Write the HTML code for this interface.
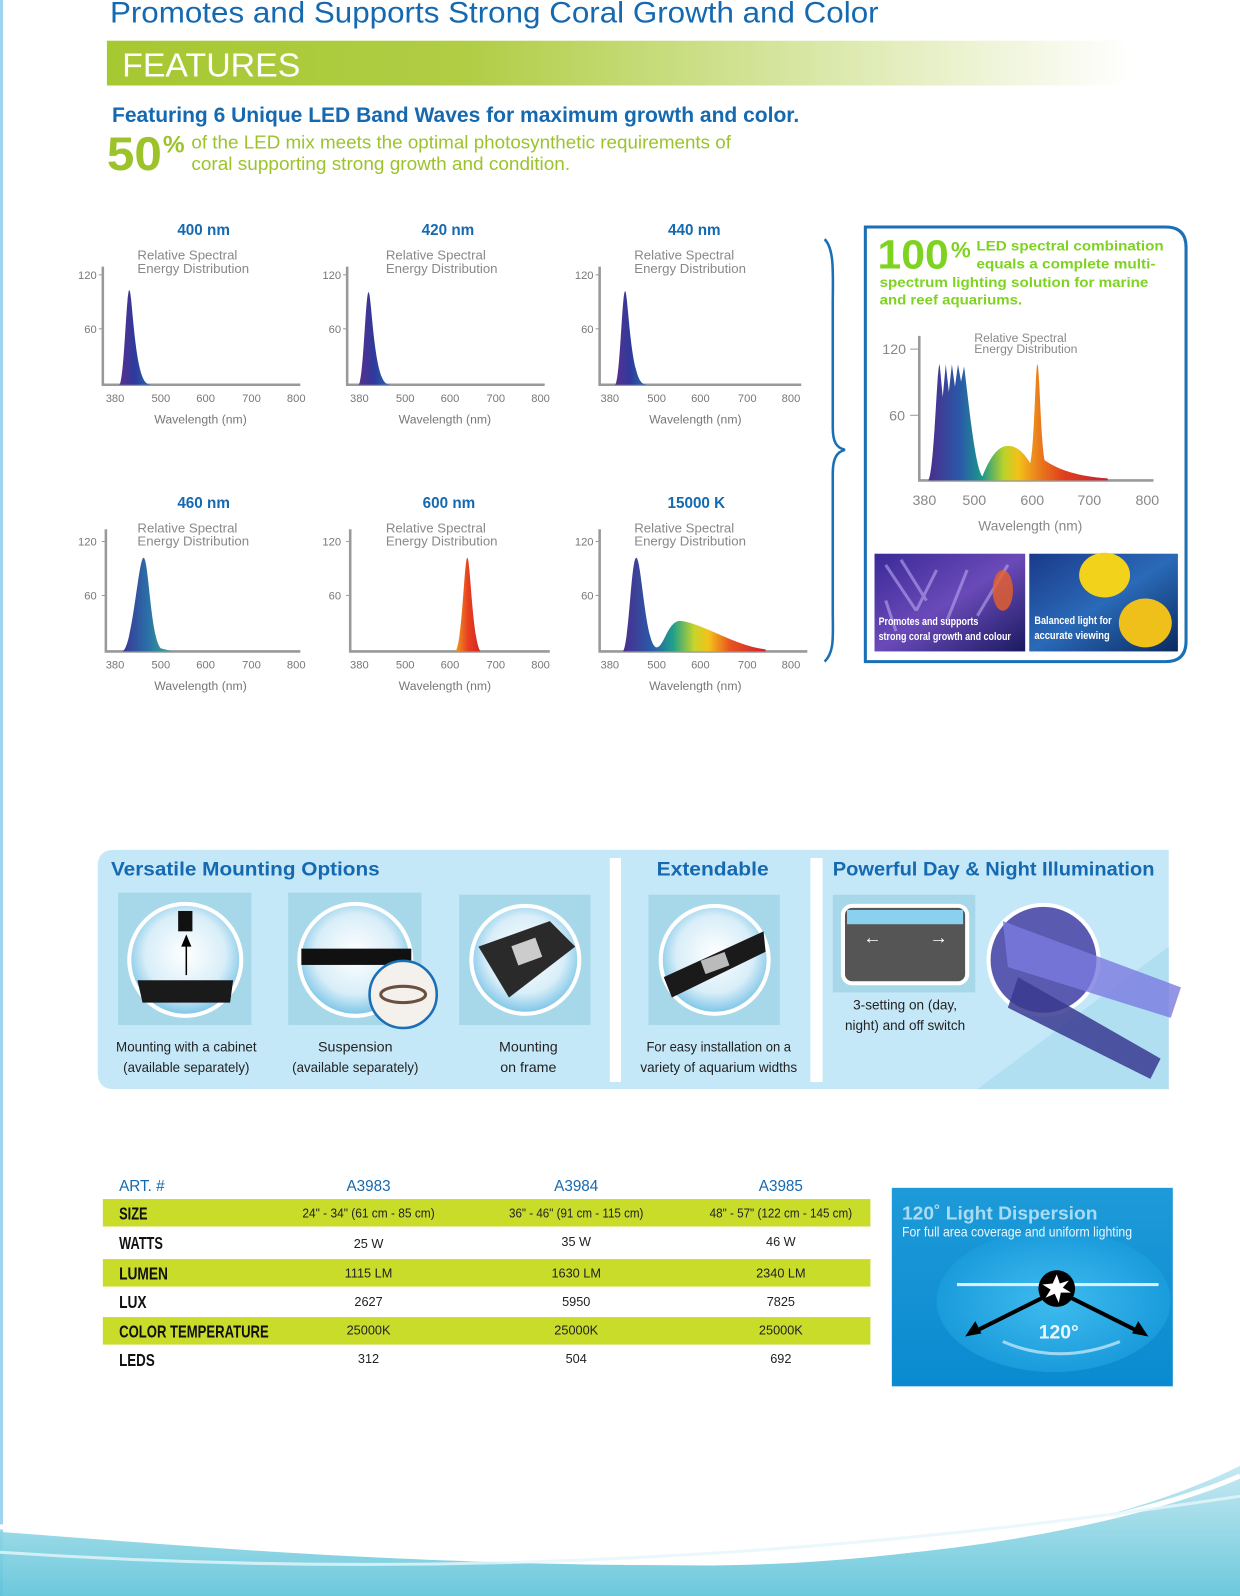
<!DOCTYPE html>
<html><head><meta charset="utf-8"><style>
html,body{margin:0;padding:0;background:#fff;width:1240px;height:1596px;overflow:hidden}
svg{display:block}
text{font-family:"Liberation Sans",sans-serif}
.ax{stroke:#999;stroke-width:2.5;fill:none}
.tk{font-size:11px;fill:#777}
.lab{font-size:12px;fill:#777}
.ttl{font-size:15px;fill:#1569b0;font-weight:bold}
.sub{font-size:13px;fill:#888}
.cap{font-size:14px;fill:#222}
.th{font-size:15px;fill:#1569b0}
.rl{font-size:17px;font-weight:bold;fill:#111}
.cell{font-size:12.5px;fill:#222}
</style></head><body>
<svg width="1240" height="1596" viewBox="0 0 1218 1568" preserveAspectRatio="none" xmlns="http://www.w3.org/2000/svg">
<defs>
<linearGradient id="feat" x1="0" x2="1"><stop offset="0" stop-color="#a6c831"/><stop offset="0.35" stop-color="#b0cd45"/><stop offset="1" stop-color="#fff"/></linearGradient>
<linearGradient id="blu" x1="0" x2="1"><stop offset="0" stop-color="#5a2f8f"/><stop offset="0.5" stop-color="#2d3a9c"/><stop offset="1" stop-color="#2c6bb0"/></linearGradient>
<linearGradient id="teal" x1="0" x2="1"><stop offset="0" stop-color="#3a3595"/><stop offset="0.5" stop-color="#2a6fa8"/><stop offset="1" stop-color="#3bb08a"/></linearGradient>
<linearGradient id="red" x1="0" x2="1"><stop offset="0" stop-color="#f0a020"/><stop offset="0.5" stop-color="#e8401f"/><stop offset="1" stop-color="#d42424"/></linearGradient>
<linearGradient id="rain" x1="0" x2="1"><stop offset="0" stop-color="#4a2d8e"/><stop offset="0.2" stop-color="#2a5aa8"/><stop offset="0.35" stop-color="#1fa08a"/><stop offset="0.5" stop-color="#c7d52a"/><stop offset="0.6" stop-color="#f3c21a"/><stop offset="0.75" stop-color="#e8541f"/><stop offset="1" stop-color="#d02030"/></linearGradient>
<linearGradient id="rain2" x1="0" x2="1"><stop offset="0" stop-color="#4a2d8e"/><stop offset="0.18" stop-color="#2a5aa8"/><stop offset="0.3" stop-color="#1a9a8a"/><stop offset="0.42" stop-color="#b9d22a"/><stop offset="0.5" stop-color="#f2c21a"/><stop offset="0.62" stop-color="#ea7a1c"/><stop offset="0.75" stop-color="#e0401f"/><stop offset="1" stop-color="#c82030"/></linearGradient>
<radialGradient id="circ" cx="0.5" cy="0.45" r="0.6"><stop offset="0" stop-color="#ffffff"/><stop offset="0.6" stop-color="#d8eef8"/><stop offset="1" stop-color="#5fb7e2"/></radialGradient>
<linearGradient id="disp" x1="0" y1="0" x2="0" y2="1"><stop offset="0" stop-color="#1e9ad8"/><stop offset="1" stop-color="#0a8ad0"/></linearGradient>
<radialGradient id="ell" cx="0.5" cy="0.5" r="0.5"><stop offset="0" stop-color="#3fbcef"/><stop offset="1" stop-color="#1a9bdb"/></radialGradient>
<linearGradient id="wave" x1="0" y1="0" x2="0" y2="1"><stop offset="0" stop-color="#bfe6f0"/><stop offset="1" stop-color="#5cc3d8"/></linearGradient>
<linearGradient id="ph1" x1="0" y1="0" x2="1" y2="1"><stop offset="0" stop-color="#3a2a98"/><stop offset="0.5" stop-color="#6a4ab8"/><stop offset="1" stop-color="#1a1a60"/></linearGradient>
<linearGradient id="ph2" x1="0" y1="0" x2="1" y2="1"><stop offset="0" stop-color="#1a3a8a"/><stop offset="0.5" stop-color="#2a6ab8"/><stop offset="1" stop-color="#0a2a60"/></linearGradient>
</defs>
<rect x="0" y="0" width="3" height="1568" fill="#9fd3ef"/>
<text x="108" y="22" font-size="29" fill="#1569b0" textLength="755" lengthAdjust="spacingAndGlyphs">Promotes and Supports Strong Coral Growth and Color</text>
<rect x="105" y="40" width="1005" height="44" fill="url(#feat)"/>
<text x="120" y="75" font-size="33" fill="#fff" textLength="175" lengthAdjust="spacingAndGlyphs">FEATURES</text>
<text x="110" y="120" font-size="21" font-weight="bold" fill="#1569b0" textLength="675" lengthAdjust="spacingAndGlyphs">Featuring 6 Unique LED Band Waves for maximum growth and color.</text>
<text x="105" y="167" font-size="46" font-weight="bold" fill="#9cc32a" textLength="54" lengthAdjust="spacingAndGlyphs">50</text>
<text x="160" y="150" font-size="24" font-weight="bold" fill="#9cc32a">%</text>
<text x="188" y="146" font-size="18" fill="#9cc32a" textLength="530" lengthAdjust="spacingAndGlyphs">of the LED mix meets the optimal photosynthetic requirements of</text>
<text x="188" y="167" font-size="18" fill="#9cc32a" textLength="372" lengthAdjust="spacingAndGlyphs">coral supporting strong growth and condition.</text>

<g>
<text x="200" y="231" class="ttl" text-anchor="middle">400 nm</text>
<text x="135" y="255" class="sub">Relative Spectral</text><text x="135" y="268" class="sub">Energy Distribution</text>
<polyline class="ax" points="101,262 101,378 295,378"/>
<line x1="97" y1="270" x2="101" y2="270" stroke="#999"/><line x1="97" y1="323" x2="101" y2="323" stroke="#999"/>
<text x="95" y="274" class="tk" text-anchor="end">120</text><text x="95" y="327" class="tk" text-anchor="end">60</text>
<text x="113" y="395" class="tk" text-anchor="middle">380</text><text x="158" y="395" class="tk" text-anchor="middle">500</text><text x="202" y="395" class="tk" text-anchor="middle">600</text><text x="247" y="395" class="tk" text-anchor="middle">700</text><text x="291" y="395" class="tk" text-anchor="middle">800</text>
<text x="197" y="416" class="lab" text-anchor="middle">Wavelength (nm)</text>
</g>
<path d="M117,378 C122,377 124,285 127,285 C130,285 132,372 145,377 L148,378 Z" fill="url(#blu)"/>

<g transform="translate(240,0)">
<text x="200" y="231" class="ttl" text-anchor="middle">420 nm</text>
<text x="139" y="255" class="sub">Relative Spectral</text><text x="139" y="268" class="sub">Energy Distribution</text>
<polyline class="ax" points="101,262 101,378 295,378"/>
<line x1="97" y1="270" x2="101" y2="270" stroke="#999"/><line x1="97" y1="323" x2="101" y2="323" stroke="#999"/>
<text x="95" y="274" class="tk" text-anchor="end">120</text><text x="95" y="327" class="tk" text-anchor="end">60</text>
<text x="113" y="395" class="tk" text-anchor="middle">380</text><text x="158" y="395" class="tk" text-anchor="middle">500</text><text x="202" y="395" class="tk" text-anchor="middle">600</text><text x="247" y="395" class="tk" text-anchor="middle">700</text><text x="291" y="395" class="tk" text-anchor="middle">800</text>
<text x="197" y="416" class="lab" text-anchor="middle">Wavelength (nm)</text>
</g>
<path d="M352,378 C357,377 359,287 362,287 C365,287 367,372 380,377 L383,378 Z" fill="url(#blu)"/>

<g transform="translate(488,0)">
<text x="194" y="231" class="ttl" text-anchor="middle">440 nm</text>
<text x="135" y="255" class="sub">Relative Spectral</text><text x="135" y="268" class="sub">Energy Distribution</text>
<polyline class="ax" points="101,262 101,378 299,378"/>
<line x1="97" y1="270" x2="101" y2="270" stroke="#999"/><line x1="97" y1="323" x2="101" y2="323" stroke="#999"/>
<text x="95" y="274" class="tk" text-anchor="end">120</text><text x="95" y="327" class="tk" text-anchor="end">60</text>
<text x="111" y="395" class="tk" text-anchor="middle">380</text><text x="157" y="395" class="tk" text-anchor="middle">500</text><text x="200" y="395" class="tk" text-anchor="middle">600</text><text x="246" y="395" class="tk" text-anchor="middle">700</text><text x="289" y="395" class="tk" text-anchor="middle">800</text>
<text x="195" y="416" class="lab" text-anchor="middle">Wavelength (nm)</text>
</g>
<path d="M604,378 C609,377 611,286 614,286 C617,286 619,372 632,377 L635,378 Z" fill="url(#blu)"/>

<g transform="translate(0,262)">
<text x="200" y="237" class="ttl" text-anchor="middle">460 nm</text>
<text x="135" y="261" class="sub">Relative Spectral</text><text x="135" y="274" class="sub">Energy Distribution</text>
<polyline class="ax" points="104,258 104,378 295,378"/>
<line x1="100" y1="270" x2="104" y2="270" stroke="#999"/><line x1="100" y1="323" x2="104" y2="323" stroke="#999"/>
<text x="95" y="274" class="tk" text-anchor="end">120</text><text x="95" y="327" class="tk" text-anchor="end">60</text>
<text x="113" y="395" class="tk" text-anchor="middle">380</text><text x="158" y="395" class="tk" text-anchor="middle">500</text><text x="202" y="395" class="tk" text-anchor="middle">600</text><text x="247" y="395" class="tk" text-anchor="middle">700</text><text x="291" y="395" class="tk" text-anchor="middle">800</text>
<text x="197" y="416" class="lab" text-anchor="middle">Wavelength (nm)</text>
</g>
<path d="M120,640 C130,638 136,548 141,548 C146,548 148,628 158,637 L170,640 Z" fill="url(#teal)"/>
<g transform="translate(240,262)">
<text x="201" y="237" class="ttl" text-anchor="middle">600 nm</text>
<text x="139" y="261" class="sub">Relative Spectral</text><text x="139" y="274" class="sub">Energy Distribution</text>
<polyline class="ax" points="104,258 104,378 300,378"/>
<line x1="100" y1="270" x2="104" y2="270" stroke="#999"/><line x1="100" y1="323" x2="104" y2="323" stroke="#999"/>
<text x="95" y="274" class="tk" text-anchor="end">120</text><text x="95" y="327" class="tk" text-anchor="end">60</text>
<text x="113" y="395" class="tk" text-anchor="middle">380</text><text x="158" y="395" class="tk" text-anchor="middle">500</text><text x="202" y="395" class="tk" text-anchor="middle">600</text><text x="247" y="395" class="tk" text-anchor="middle">700</text><text x="291" y="395" class="tk" text-anchor="middle">800</text>
<text x="197" y="416" class="lab" text-anchor="middle">Wavelength (nm)</text>
</g>
<path d="M447,640 C454,636 456,548 459,548 C462,548 464,630 472,640 Z" fill="url(#red)"/>
<g transform="translate(488,262)">
<text x="196" y="237" class="ttl" text-anchor="middle">15000 K</text>
<text x="135" y="261" class="sub">Relative Spectral</text><text x="135" y="274" class="sub">Energy Distribution</text>
<polyline class="ax" points="101,258 101,378 305,378"/>
<line x1="97" y1="270" x2="101" y2="270" stroke="#999"/><line x1="97" y1="323" x2="101" y2="323" stroke="#999"/>
<text x="95" y="274" class="tk" text-anchor="end">120</text><text x="95" y="327" class="tk" text-anchor="end">60</text>
<text x="111" y="395" class="tk" text-anchor="middle">380</text><text x="157" y="395" class="tk" text-anchor="middle">500</text><text x="200" y="395" class="tk" text-anchor="middle">600</text><text x="246" y="395" class="tk" text-anchor="middle">700</text><text x="289" y="395" class="tk" text-anchor="middle">800</text>
<text x="195" y="416" class="lab" text-anchor="middle">Wavelength (nm)</text>
</g>
<path d="M612,640 C618,630 620,548 625,548 C630,548 634,636 645,636 C652,636 656,610 668,610 C690,612 720,634 752,638 L752,640 Z" fill="url(#rain)"/>

<path d="M810,235 C820,245 818,270 818,300 L818,420 C818,435 822,440 830,442 C822,444 818,450 818,465 L818,600 C818,625 820,640 810,650" stroke="#1a6fb5" stroke-width="2.5" fill="none"/>

<path d="M850,223 L1145,223 Q1165,223 1165,243 L1165,630 Q1165,650 1145,650 L850,650 Z" fill="#fff" stroke="#1a6fb5" stroke-width="3"/>
<text x="862" y="264" font-size="40" font-weight="bold" fill="#7ed321" textLength="70" lengthAdjust="spacingAndGlyphs">100</text>
<text x="934" y="253" font-size="22" font-weight="bold" fill="#7ed321">%</text>
<text x="959" y="246" font-size="14" font-weight="bold" fill="#7ed321" textLength="184" lengthAdjust="spacingAndGlyphs">LED spectral combination</text>
<text x="959" y="264" font-size="14" font-weight="bold" fill="#7ed321" textLength="176" lengthAdjust="spacingAndGlyphs">equals a complete multi-</text>
<text x="864" y="282" font-size="14" font-weight="bold" fill="#7ed321" textLength="264" lengthAdjust="spacingAndGlyphs">spectrum lighting solution for marine</text>
<text x="864" y="299" font-size="14" font-weight="bold" fill="#7ed321" textLength="140" lengthAdjust="spacingAndGlyphs">and reef aquariums.</text>
<text x="957" y="336" font-size="12" fill="#888">Relative Spectral</text>
<text x="957" y="347" font-size="12" fill="#888">Energy Distribution</text>
<polyline class="ax" points="903,330 903,472 1133,472"/>
<text x="890" y="348" font-size="14" fill="#888" text-anchor="end">120</text><line x1="894" y1="343" x2="903" y2="343" stroke="#999"/>
<text x="889" y="413" font-size="14" fill="#888" text-anchor="end">60</text><line x1="894" y1="408" x2="903" y2="408" stroke="#999"/>
<text x="908" y="496" font-size="14" fill="#888" text-anchor="middle">380</text><text x="957" y="496" font-size="14" fill="#888" text-anchor="middle">500</text><text x="1014" y="496" font-size="14" fill="#888" text-anchor="middle">600</text><text x="1070" y="496" font-size="14" fill="#888" text-anchor="middle">700</text><text x="1127" y="496" font-size="14" fill="#888" text-anchor="middle">800</text>
<text x="1012" y="521" font-size="13.5" fill="#888" text-anchor="middle">Wavelength (nm)</text>
<path d="M912,472 C918,460 920,360 923,358 L926,390 L929,358 L932,385 L935,358 L938,380 L941,358 L944,375 L947,360 C952,400 958,460 965,468 C972,450 980,438 990,438 C1000,438 1006,446 1012,455 C1016,440 1017,358 1019,358 C1021,358 1022,430 1026,452 C1040,462 1060,468 1088,470 L1088,472 Z" fill="url(#rain2)"/>
<rect x="859" y="544" width="148" height="96" fill="url(#ph1)"/>
<path d="M870,555 L900,600 M885,550 L910,590 M920,560 L900,600 M950,560 L930,610 M990,555 L960,605 M870,590 L880,620" stroke="#b9a6f0" stroke-width="3" opacity="0.6"/>
<ellipse cx="985" cy="580" rx="10" ry="20" fill="#e8602a" opacity="0.8"/>
<rect x="1011" y="544" width="146" height="96" fill="url(#ph2)"/>
<ellipse cx="1085" cy="565" rx="25" ry="22" fill="#f2d21a"/>
<ellipse cx="1125" cy="612" rx="26" ry="24" fill="#f0c01a"/>
<text x="863" y="614" font-size="11" fill="#fff" font-weight="bold" textLength="98" lengthAdjust="spacingAndGlyphs">Promotes and supports</text>
<text x="863" y="629" font-size="11" fill="#fff" font-weight="bold" textLength="130" lengthAdjust="spacingAndGlyphs">strong coral growth and colour</text>
<text x="1016" y="613" font-size="11" fill="#fff" font-weight="bold" textLength="76" lengthAdjust="spacingAndGlyphs">Balanced light for</text>
<text x="1016" y="628" font-size="11" fill="#fff" font-weight="bold" textLength="74" lengthAdjust="spacingAndGlyphs">accurate viewing</text>

<path d="M112,835 L1148,835 L1148,1070 L112,1070 Q96,1070 96,1054 L96,851 Q96,835 112,835 Z" fill="#c5e8f8"/>
<path d="M960,1070 L1148,930 L1148,1070 Z" fill="#b0dff2"/>
<rect x="599" y="843" width="11" height="220" fill="#fff"/>
<rect x="796" y="843" width="12" height="220" fill="#fff"/>
<text x="109" y="860" font-size="19" font-weight="bold" fill="#1569b0" textLength="264" lengthAdjust="spacingAndGlyphs">Versatile Mounting Options</text>
<text x="645" y="860" font-size="19" font-weight="bold" fill="#1569b0" textLength="110" lengthAdjust="spacingAndGlyphs">Extendable</text>
<text x="818" y="860" font-size="19" font-weight="bold" fill="#1569b0" textLength="316" lengthAdjust="spacingAndGlyphs">Powerful Day &amp; Night Illumination</text>
<rect x="116" y="877" width="131" height="130" fill="#a7d8ea"/>
<rect x="283" y="877" width="131" height="130" fill="#a7d8ea"/>
<rect x="451" y="879" width="129" height="128" fill="#a7d8ea"/>
<rect x="637" y="879" width="129" height="128" fill="#a7d8ea"/>
<rect x="818" y="879" width="140" height="96" fill="#a7d8ea"/>
<g stroke="#fff" stroke-width="4">
<circle cx="182" cy="943" r="55" fill="url(#circ)"/>
<circle cx="349" cy="943" r="55" fill="url(#circ)"/>
<circle cx="516" cy="943" r="53" fill="url(#circ)"/>
<circle cx="702" cy="943" r="53" fill="url(#circ)"/>
<circle cx="1025" cy="943" r="54" fill="#5a5ab0"/>
</g>
<path d="M135,963 L229,963 L226,985 L140,985 Z" fill="#1a1a1a"/>
<rect x="175" y="895" width="14" height="20" fill="#111"/>
<line x1="183" y1="958" x2="183" y2="925" stroke="#000" stroke-width="1.5"/><path d="M178,930 L183,918 L188,930 Z" fill="#000"/>
<rect x="296" y="932" width="108" height="16" fill="#111"/>
<circle cx="396" cy="977" r="33" fill="#f4f0ec" stroke="#1a6fb5" stroke-width="2.5"/>
<ellipse cx="396" cy="977" rx="22" ry="8" fill="none" stroke="#6a5040" stroke-width="3"/>
<path d="M470,930 L540,905 L565,930 L500,980 Z" fill="#2a2a2a"/><rect x="505" y="925" width="25" height="20" fill="#ccc" transform="rotate(-20 517 935)"/>
<path d="M652,960 L750,915 L752,935 L660,980 Z" fill="#1a1a1a"/><rect x="690" y="940" width="25" height="14" fill="#bbb" transform="rotate(-20 700 947)"/>
<path d="M985,905 L1160,970 L1150,1000 L990,950 Z" fill="#7a7ae0" opacity="0.8"/>
<path d="M1000,960 L1140,1040 L1130,1060 L990,990 Z" fill="#3a3a90" opacity="0.85"/>
<rect x="828" y="890" width="122" height="76" rx="9" fill="#555" stroke="#fff" stroke-width="4"/>
<rect x="832" y="894" width="114" height="14" fill="#8cd0ef"/>
<text x="857" y="927" font-size="18" fill="#fff" text-anchor="middle">←</text><text x="922" y="927" font-size="18" fill="#fff" text-anchor="middle">→</text>
<g class="cap" text-anchor="middle" lengthAdjust="spacingAndGlyphs">
<text x="183" y="1033" textLength="138" lengthAdjust="spacingAndGlyphs">Mounting with a cabinet</text>
<text x="183" y="1053" textLength="124" lengthAdjust="spacingAndGlyphs">(available separately)</text>
<text x="349" y="1033">Suspension</text>
<text x="349" y="1053" textLength="124" lengthAdjust="spacingAndGlyphs">(available separately)</text>
<text x="519" y="1033">Mounting</text>
<text x="519" y="1053">on frame</text>
<text x="706" y="1033" textLength="142" lengthAdjust="spacingAndGlyphs">For easy installation on a</text>
<text x="706" y="1053" textLength="154" lengthAdjust="spacingAndGlyphs">variety of aquarium widths</text>
<text x="889" y="992" textLength="102" lengthAdjust="spacingAndGlyphs">3-setting on (day,</text>
<text x="889" y="1012" textLength="118" lengthAdjust="spacingAndGlyphs">night) and off switch</text>
</g>

<text x="117" y="1170" class="th">ART. #</text>
<text x="362" y="1170" class="th" text-anchor="middle">A3983</text>
<text x="566" y="1170" class="th" text-anchor="middle">A3984</text>
<text x="767" y="1170" class="th" text-anchor="middle">A3985</text>
<rect x="101" y="1178" width="754" height="27" fill="#c9dc2a"/>
<rect x="101" y="1237" width="754" height="27" fill="#c9dc2a"/>
<rect x="101" y="1294" width="754" height="27" fill="#c9dc2a"/>
<text x="117" y="1198" class="rl" textLength="28" lengthAdjust="spacingAndGlyphs">SIZE</text><text x="117" y="1227" class="rl" textLength="43" lengthAdjust="spacingAndGlyphs">WATTS</text><text x="117" y="1257" class="rl" textLength="48" lengthAdjust="spacingAndGlyphs">LUMEN</text><text x="117" y="1285" class="rl" textLength="27" lengthAdjust="spacingAndGlyphs">LUX</text><text x="117" y="1314" class="rl" textLength="147" lengthAdjust="spacingAndGlyphs">COLOR TEMPERATURE</text><text x="117" y="1342" class="rl" textLength="35" lengthAdjust="spacingAndGlyphs">LEDS</text>
<g class="cell" text-anchor="middle">
<text x="362" y="1196" textLength="130" lengthAdjust="spacingAndGlyphs">24" - 34" (61 cm - 85 cm)</text><text x="566" y="1196" textLength="132" lengthAdjust="spacingAndGlyphs">36" - 46" (91 cm - 115 cm)</text><text x="767" y="1196" textLength="140" lengthAdjust="spacingAndGlyphs">48" - 57" (122 cm - 145 cm)</text>
<text x="362" y="1226">25 W</text><text x="566" y="1224">35 W</text><text x="767" y="1224">46 W</text>
<text x="362" y="1255">1115 LM</text><text x="566" y="1255">1630 LM</text><text x="767" y="1255">2340 LM</text>
<text x="362" y="1283">2627</text><text x="566" y="1283">5950</text><text x="767" y="1283">7825</text>
<text x="362" y="1311">25000K</text><text x="566" y="1311">25000K</text><text x="767" y="1311">25000K</text>
<text x="362" y="1339">312</text><text x="566" y="1339">504</text><text x="767" y="1339">692</text>
</g>

<rect x="876" y="1167" width="276" height="195" fill="url(#disp)"/>
<ellipse cx="1035" cy="1278" rx="115" ry="70" fill="url(#ell)"/>
<text x="886" y="1198" font-size="18" font-weight="bold" fill="#a8dcf5" textLength="192" lengthAdjust="spacingAndGlyphs">120˚ Light Dispersion</text>
<text x="886" y="1215" font-size="14" fill="#e8f6ff" textLength="226" lengthAdjust="spacingAndGlyphs">For full area coverage and uniform lighting</text>
<line x1="940" y1="1262" x2="1138" y2="1262" stroke="#d8f1fc" stroke-width="3"/>
<line x1="1038" y1="1268" x2="958" y2="1308" stroke="#000" stroke-width="4"/><path d="M948,1313 L958,1298 L964,1310 Z" fill="#000"/>
<line x1="1038" y1="1268" x2="1118" y2="1308" stroke="#000" stroke-width="4"/><path d="M1128,1313 L1118,1298 L1112,1310 Z" fill="#000"/>
<circle cx="1038" cy="1266" r="18" fill="#000"/>
<polygon points="1038,1252 1041,1261 1050,1258 1044,1265 1052,1270 1042,1270 1040,1280 1036,1271 1027,1275 1032,1267 1024,1262 1034,1261" fill="#fff"/>
<text x="1040" y="1315" font-size="19" font-weight="bold" fill="#e8f6ff" text-anchor="middle">120°</text>
<path d="M985,1318 Q1040,1342 1100,1318" stroke="#9ed8f3" stroke-width="3" fill="none"/>

<path d="M0,1505 C200,1520 400,1538 700,1538 C900,1536 1100,1500 1218,1440 L1218,1568 L0,1568 Z" fill="url(#wave)" opacity="0.9"/>
<path d="M0,1500 C300,1525 600,1535 800,1530 C1000,1520 1150,1480 1218,1450" stroke="#fff" stroke-width="5" fill="none"/>
<path d="M0,1525 C300,1545 700,1548 1218,1470" stroke="#e6f6fa" stroke-width="3" fill="none" opacity="0.8"/>
</svg>
</body></html>
